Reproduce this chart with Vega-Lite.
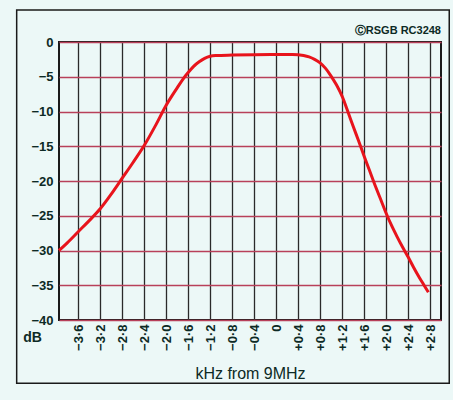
{
  "$schema": "https://vega.github.io/schema/vega-lite/v6.json",
  "width": 382,
  "height": 278,
  "autosize": {"type": "none"},
  "padding": {"left": 59, "top": 42, "right": 12, "bottom": 80},
  "background": "#ecf8f7",
  "title": {
    "text": "ⒸRSGB RC3248",
    "anchor": "end",
    "frame": "group",
    "fontSize": 11,
    "font": "Liberation Sans",
    "fontWeight": "bold",
    "color": "#0d2a25",
    "offset": -27
  },
  "config": {
    "view": {"stroke": "#1a1a1a", "strokeWidth": 2},
    "font": "Liberation Sans"
  },
  "datasets": {
    "curve": [
      {"khz": -3.95, "db": -30},
      {"khz": -3.8, "db": -28.9},
      {"khz": -3.6, "db": -27.3},
      {"khz": -3.4, "db": -25.7},
      {"khz": -3.2, "db": -24.0},
      {"khz": -3.0, "db": -21.9},
      {"khz": -2.8, "db": -19.6},
      {"khz": -2.6, "db": -17.3},
      {"khz": -2.4, "db": -14.9},
      {"khz": -2.2, "db": -12.1},
      {"khz": -2.0, "db": -9.1},
      {"khz": -1.8, "db": -6.6},
      {"khz": -1.7, "db": -5.4},
      {"khz": -1.6, "db": -4.4},
      {"khz": -1.5, "db": -3.5},
      {"khz": -1.4, "db": -2.85},
      {"khz": -1.3, "db": -2.35},
      {"khz": -1.2, "db": -2.05},
      {"khz": -1.1, "db": -1.95},
      {"khz": -0.8, "db": -1.88},
      {"khz": -0.4, "db": -1.83},
      {"khz": 0.0, "db": -1.8},
      {"khz": 0.3, "db": -1.8},
      {"khz": 0.5, "db": -1.95},
      {"khz": 0.6, "db": -2.15},
      {"khz": 0.7, "db": -2.5},
      {"khz": 0.8, "db": -3.0},
      {"khz": 0.9, "db": -3.8},
      {"khz": 1.0, "db": -4.9},
      {"khz": 1.1, "db": -6.2},
      {"khz": 1.2, "db": -7.8},
      {"khz": 1.3, "db": -9.9},
      {"khz": 1.4, "db": -12.1},
      {"khz": 1.5, "db": -14.2},
      {"khz": 1.6, "db": -16.4},
      {"khz": 1.7, "db": -18.5},
      {"khz": 1.8, "db": -20.6},
      {"khz": 1.9, "db": -22.6},
      {"khz": 2.0, "db": -24.6},
      {"khz": 2.1, "db": -26.4},
      {"khz": 2.2, "db": -28.0},
      {"khz": 2.3, "db": -29.5},
      {"khz": 2.4, "db": -30.9},
      {"khz": 2.5, "db": -32.4},
      {"khz": 2.6, "db": -33.8},
      {"khz": 2.7, "db": -35.1},
      {"khz": 2.77, "db": -36.0}
    ]
  },
  "layer": [
    {
      "data": {"name": "curve"},
      "mark": {"type": "line", "color": "#e8141c", "strokeWidth": 3, "interpolate": "monotone"},
      "encoding": {
        "x": {
          "field": "khz",
          "type": "quantitative",
          "scale": {"domain": [-3.95, 3.0], "nice": false, "zero": false},
          "axis": {
            "values": [-3.6, -3.2, -2.8, -2.4, -2.0, -1.6, -1.2, -0.8, -0.4, 0, 0.4, 0.8, 1.2, 1.6, 2.0, 2.4, 2.8],
            "tickCount": 40,
            "labelExpr": "datum.value == 0 ? '0' : (datum.value < 0 ? '−' : '+') + replace(format(abs(datum.value), '.1f'), '.', '·')",
            "labelAngle": 270,
            "labelOverlap": false,
            "labelFontSize": 13,
            "labelFontWeight": "bold",
            "labelColor": "#0d2a25",
            "labelPadding": 4,
            "ticks": false,
            "domain": false,
            "grid": true,
            "gridColor": "#2a2a2a",
            "gridWidth": 1.3,
            "gridOpacity": 1,
            "title": "kHz from 9MHz",
            "titleFontSize": 16,
            "titleFontWeight": "normal",
            "titleColor": "#0d2a25",
            "titleY": 53,
            "titleBaseline": "middle"
          }
        },
        "y": {
          "field": "db",
          "type": "quantitative",
          "scale": {"domain": [-40, 0], "nice": false, "zero": false},
          "axis": {
            "values": [0, -5, -10, -15, -20, -25, -30, -35, -40],
            "tickCount": 40,
            "labelExpr": "datum.value == 0 ? '0' : '−' + abs(datum.value)",
            "labelOverlap": false,
            "labelFontSize": 13,
            "labelFontWeight": "bold",
            "labelColor": "#0d2a25",
            "labelPadding": 6,
            "ticks": false,
            "domain": false,
            "grid": true,
            "gridColor": "#b8405a",
            "gridWidth": 1.5,
            "gridOpacity": 1,
            "title": "dB",
            "titleAngle": 0,
            "titleX": -27,
            "titleY": 295,
            "titleAlign": "center",
            "titleBaseline": "middle",
            "titleFontSize": 14,
            "titleFontWeight": "bold",
            "titleColor": "#0d2a25"
          }
        }
      }
    },
    {
      "data": {"values": [{}]},
      "mark": {"type": "rect", "filled": false, "stroke": "#1a1a1a", "strokeWidth": 1.5, "clip": false},
      "encoding": {
        "x": {"datum": -4.72, "type": "quantitative"},
        "x2": {"datum": 3.15},
        "y": {"datum": 4.6, "type": "quantitative"},
        "y2": {"datum": -49.1}
      }
    }
  ]
}
